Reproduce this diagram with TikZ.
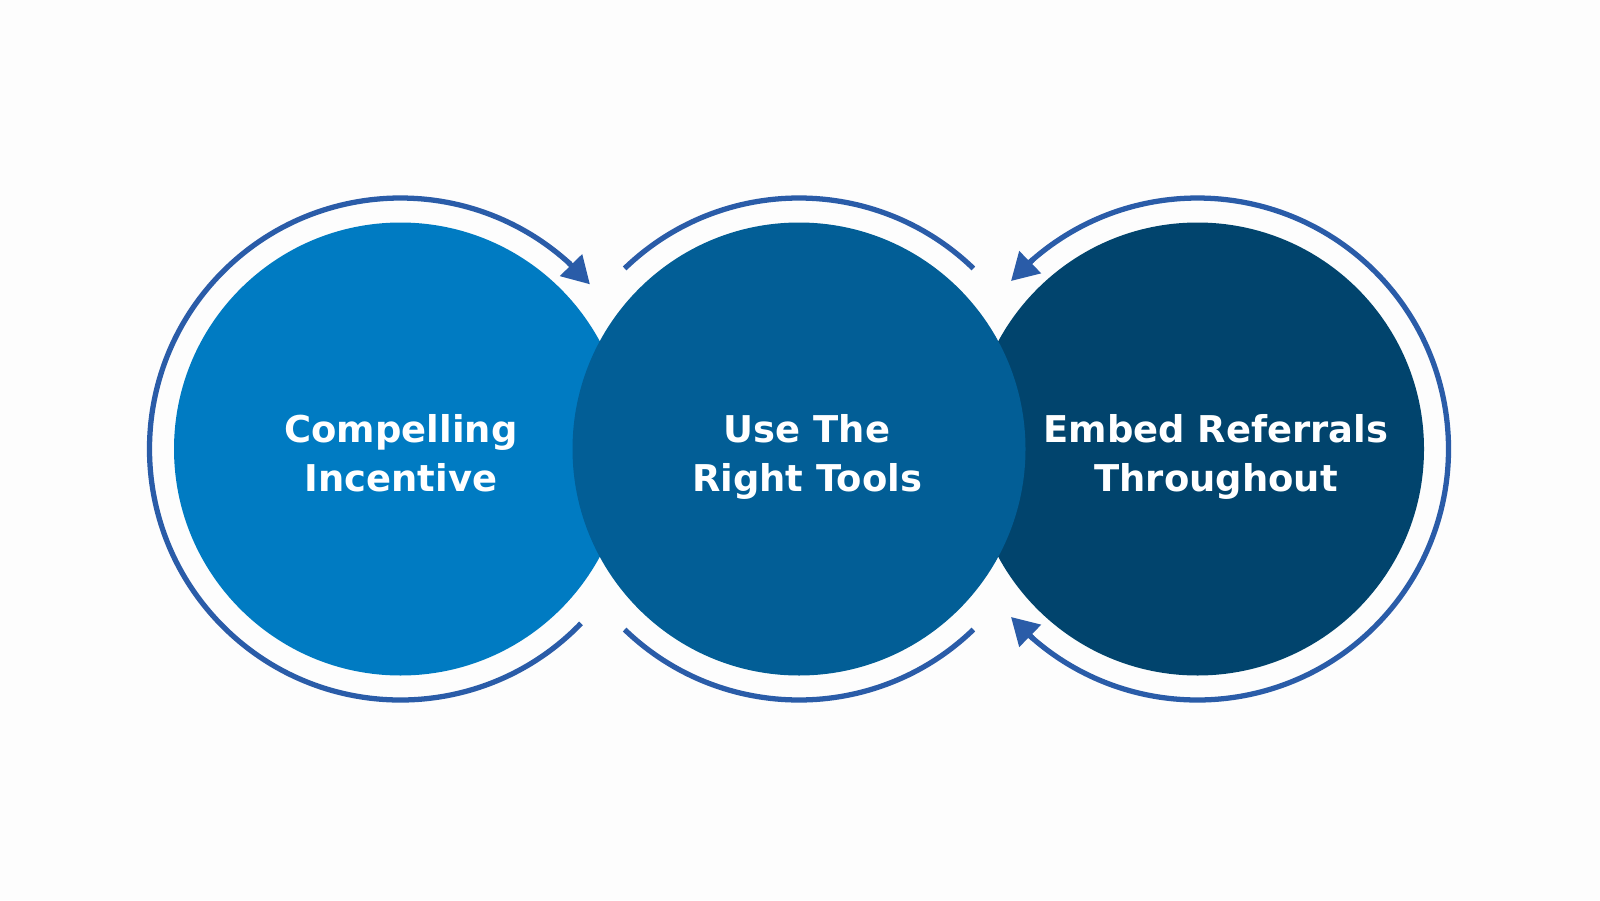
\documentclass[tikz,border=0pt]{standalone}
\usepackage{fontspec}
\setsansfont{DejaVu Sans}
\usetikzlibrary{arrows.meta}
\definecolor{incentiveblue}{RGB}{0,123,194}
\definecolor{toolsblue}{RGB}{2,94,150}
\definecolor{embedblue}{RGB}{1,68,109}
\definecolor{ringblue}{RGB}{42,92,168}
\definecolor{pagebg}{RGB}{253,253,253}

\begin{document}
\begin{tikzpicture}
	\tikzstyle{every node}+=[inner sep=0pt]
	\tikzstyle{disc}=[circle, minimum size=4.53cm]
	\tikzstyle{ring}=[ringblue, line width=1.5pt]
	\tikzstyle{ringtip}=[ringblue, line width=1.5pt, -{Triangle[length=0.27cm, width=0.3cm]}]
	\tikzstyle{disctext}=[white, align=center, font=\sffamily\bfseries\fontsize{10.5}{14.2}\selectfont]
	\fill [pagebg] (0,0) rectangle (16,9);
	% the three discs, middle one on top
	\node [disc, fill=incentiveblue] (incentive) at (4.005,4.51) {};
	\node [disc, fill=embedblue] (embed) at (11.975,4.51) {};
	\node [disc, fill=toolsblue] (tools) at (7.99,4.51) {};
	% rings
	\draw [ring] ([shift={(-44:2.51)}]incentive.center) arc [start angle=-44, end angle=-312.5, radius=2.51];
	\draw [ringtip] ([shift={(48:2.51)}]incentive.center) -- ([shift={(41:2.51)}]incentive.center);
	\draw [ring] ([shift={(46:2.51)}]tools.center) arc [start angle=46, end angle=134, radius=2.51];
	\draw [ring] ([shift={(-46:2.51)}]tools.center) arc [start angle=-46, end angle=-134, radius=2.51];
	\draw [ring] ([shift={(-132.5:2.51)}]embed.center) arc [start angle=-132.5, end angle=132.5, radius=2.51];
	\draw [ringtip] ([shift={(131:2.51)}]embed.center) -- ([shift={(138:2.51)}]embed.center);
	\draw [ringtip] ([shift={(-131:2.51)}]embed.center) -- ([shift={(-138:2.51)}]embed.center);
	% texts
	\node [disctext] (incentivetext) at (4.01,4.43) {\strut Compelling\\\strut Incentive};
	\node [disctext] (toolstext) at (8.07,4.43) {\strut Use The\\\strut Right Tools};
	\node [disctext] (embedtext) at (12.16,4.43) {\strut Embed Referrals\\\strut Throughout};
\end{tikzpicture}
\end{document}
